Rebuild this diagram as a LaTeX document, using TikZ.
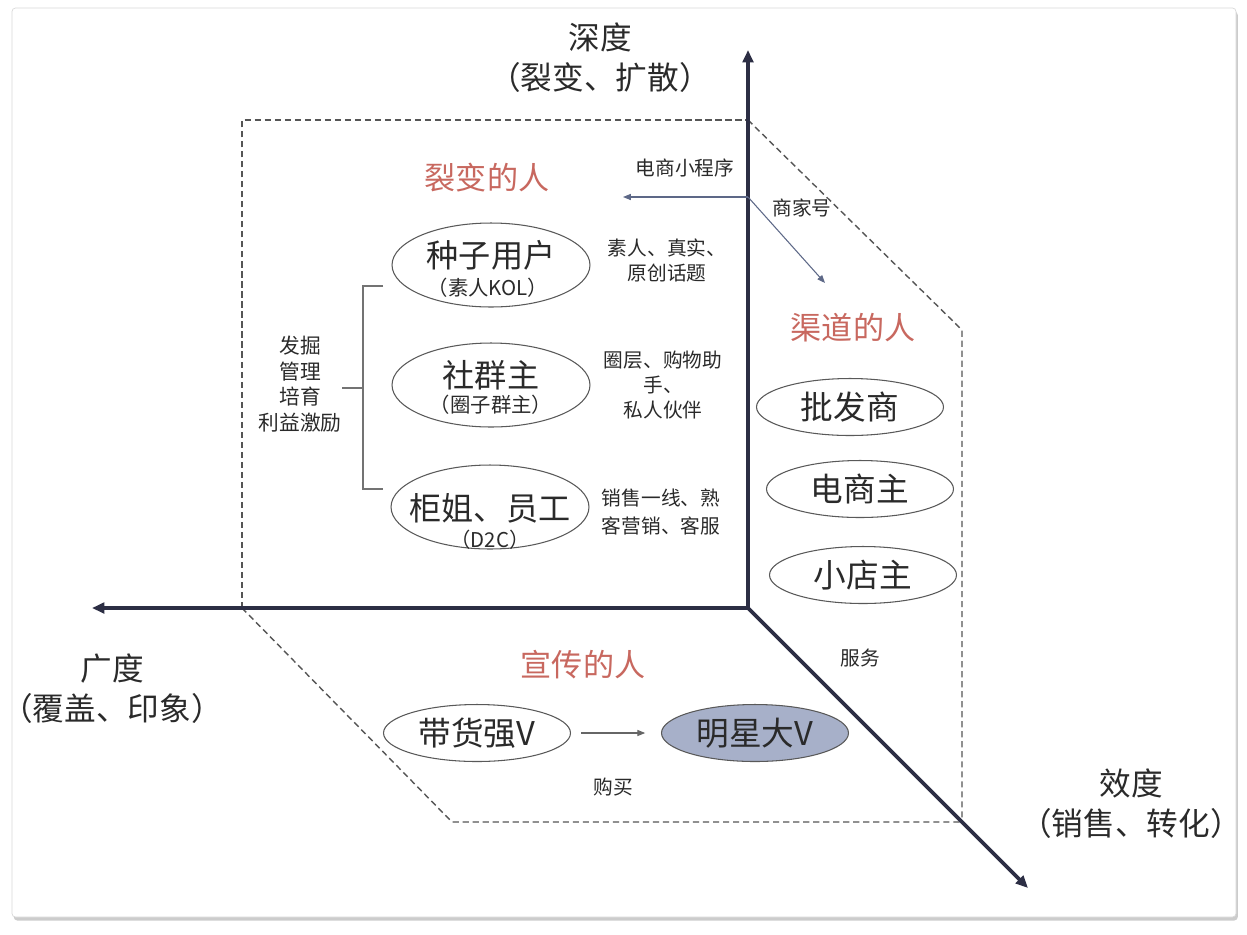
\documentclass[tikz,border=0pt]{standalone}
\usepackage{fontspec}
\setmainfont{Noto Sans CJK SC}
\usetikzlibrary{arrows.meta,shapes.geometric,shadows}
\definecolor{axisnavy}{HTML}{2C2E44}
\definecolor{dashgray}{HTML}{555555}
\definecolor{labelred}{HTML}{C8685F}
\definecolor{linkblue}{HTML}{5D6887}
\definecolor{starfill}{HTML}{A7B0C9}
\definecolor{inkgray}{HTML}{2A2A2A}

\begin{document}
\begin{tikzpicture}[x=0.02cm, y=-0.02cm, text=inkgray,
          axis/.style={draw=axisnavy, line width=2.2pt, -{Triangle[length=7pt,width=6pt]}},
          zone/.style={draw=dashgray, line width=0.8pt, dash pattern=on 3.5pt off 2.2pt},
          link/.style={draw=linkblue, line width=0.6pt, -{Triangle[length=4.5pt,width=3.5pt]}},
          brace/.style={draw=black!55, line width=0.6pt},
          axislabel/.style={align=center, font=\fontsize{18}{22.7}\selectfont},
          group/.style={text=labelred, font=\fontsize{17.7}{20}\selectfont},
          note/.style={align=center, font=\fontsize{11.2}{14.2}\selectfont},
          role/.style={draw=black!65, line width=0.6pt, ellipse, inner sep=0pt},
          bigrole/.style={role, minimum width=3.96cm, minimum height=1.68cm},
          smallrole/.style={role, minimum width=3.74cm, minimum height=1.14cm, font=\fontsize{18.6}{20}\selectfont},
          rolename/.style={font=\fontsize{18.3}{20}\selectfont},
          rolesub/.style={font=\fontsize{11.6}{13}\selectfont}]
        \useasboundingbox (0,0) rectangle (1247,934);
        \fill[white] (0,0) rectangle (1247,934);
        \filldraw[fill=white, draw=black!15, rounded corners=2pt,
          drop shadow={opacity=0.4, shadow xshift=1pt, shadow yshift=-2pt}] (12,8) rectangle (1236,917);

        \draw[zone] (242,608) -- (242,120) -- (748,120);
        \draw[zone] (748,120) -- (962,330) -- (962,822);
        \draw[zone] (242,608) -- (452,822) -- (962,822);

        \coordinate (O) at (748,608);
        \coordinate (ytip) at (748,50);
        \coordinate (xtip) at (92,608);
        \coordinate (ztip) at (1028,888);
        \draw[axis] (O) -- (ytip);
        \draw[axis] (O) -- (xtip);
        \draw[axis] (O) -- (ztip);

        \node[axislabel] (depth) at (600,58) {深度\\（裂变、扩散）};
        \node[axislabel] (breadth) at (112,689) {广度\\（覆盖、印象）};
        \node[axislabel] (effect) at (1131,804) {效度\\（销售、转化）};

        \node[group] (fission) at (487,178) {裂变的人};
        \node[group] (channel) at (853,328) {渠道的人};
        \node[group] (promo) at (583,665) {宣传的人};

        \node[bigrole] (seed) at (491,265) {};
        \node[rolename] (seedname) at (491,255) {种子用户};
        \node[rolesub] (seedsub) at (488,288) {（素人KOL）};
        \node[bigrole] (leader) at (491,385) {};
        \node[rolename] (leadername) at (491,375) {社群主};
        \node[rolesub] (leadersub) at (491,405) {（圈子群主）};
        \node[bigrole] (staff) at (490,507) {};
        \node[rolename] (staffname) at (490,508) {柜姐、员工};
        \node[rolesub] (staffsub) at (490,540) {（D2C）};

        \node[note] (seednote) at (667,260) {素人、真实、\\原创话题};
        \node[note] (leadernote) at (663,385) {圈层、购物助\\手、\\私人伙伴};
        \node[note] (staffnote) at (661,512) {销售一线、熟\\[2pt]客营销、客服};
        \node[note, font=\fontsize{11.8}{14.6}\selectfont] (tasks) at (300,384) {发掘\\管理\\培育\\利益激励};

        \coordinate (brtop) at (383,286);
        \coordinate (brbot) at (383,489);
        \coordinate (brmid) at (342,388);
        \draw[brace] (brtop) -- ++(-20,0) |- (brbot);
        \draw[brace] (brmid) -- ++(21,0);

        \node[note] (app) at (685,168) {电商小程序};
        \node[note] (shopacct) at (802,208) {商家号};
        \coordinate (hub) at (748,197);
        \coordinate (apptip) at (623,197);
        \coordinate (accttip) at (825,283);
        \draw[link] (hub) -- (apptip);
        \draw[link] (hub) -- (accttip);

        \node[smallrole] (wholesale) at (850,407) {批发商};
        \node[smallrole] (eshop) at (860,489) {电商主};
        \node[smallrole] (store) at (863,575) {小店主};
        \node[note] (serve) at (860,658) {服务};

        \node[smallrole] (seller) at (477,733) {带货强V};
        \node[smallrole, fill=starfill] (star) at (755,733) {明星大V};
        \draw[link, draw=black!60, shorten <=5.7pt, shorten >=9pt] (seller) -- (star);
        \node[note] (buy) at (613,787) {购买};
      \end{tikzpicture}
\end{document}
